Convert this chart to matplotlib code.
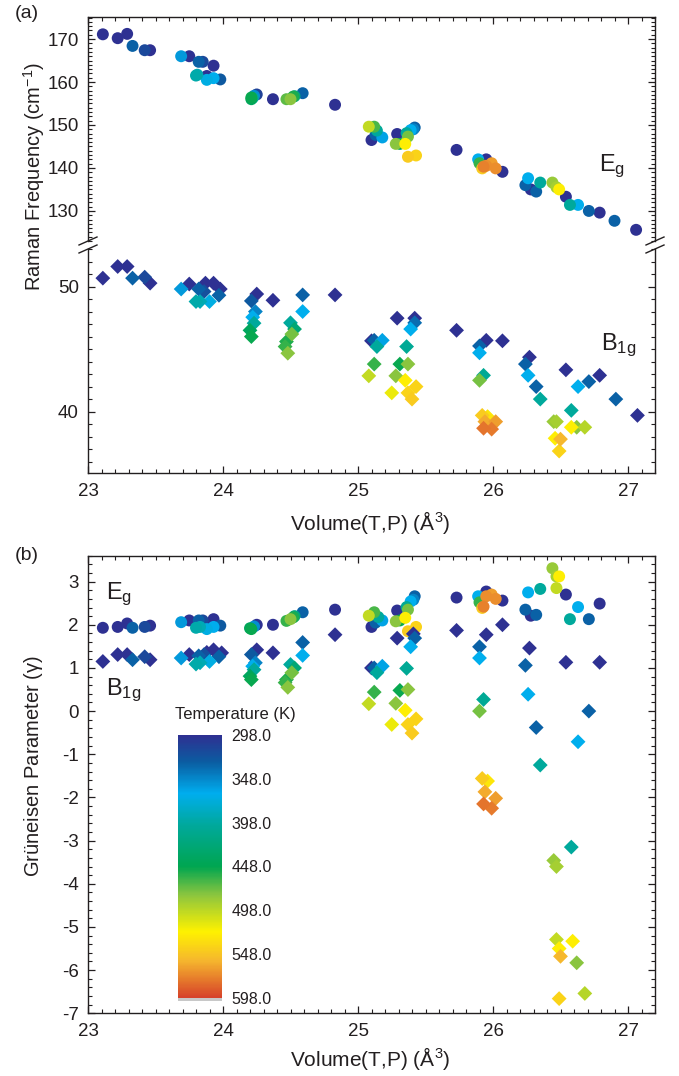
import numpy as np
import matplotlib
matplotlib.use('Agg')
import matplotlib.pyplot as plt
from matplotlib.colors import LinearSegmentedColormap, Normalize
from matplotlib.lines import Line2D
from matplotlib.patches import Rectangle
from matplotlib.ticker import MultipleLocator

plt.rcParams['font.family'] = ['Liberation Sans', 'DejaVu Sans']
plt.rcParams['axes.unicode_minus'] = False
plt.rcParams['mathtext.default'] = 'regular'

# ---- panel (a): Raman frequency, Eg mode (circles) ----
eg_a_vol = [23.11, 23.22, 23.29, 23.33, 23.42, 23.46, 23.69, 23.75, 23.82, 23.85, 23.93, 23.80, 23.81,
            23.88, 23.88, 23.93, 23.98, 24.21, 24.21, 24.23, 24.25, 24.22, 24.37, 24.47, 24.50, 24.52,
            24.53, 24.59, 24.83, 25.08, 25.12, 25.10, 25.13, 25.14, 25.18, 25.29, 25.28, 25.31, 25.35,
            25.36, 25.37, 25.39, 25.42, 25.41, 25.37, 25.43, 25.73, 25.89, 25.95, 25.90, 25.92, 25.93,
            25.95, 25.99, 26.02, 26.07, 26.26, 26.24, 26.28, 26.32, 26.35, 26.44, 26.47, 26.49, 26.54,
            26.57, 26.63, 26.71, 26.79, 26.90, 27.06]
eg_a_freq = [171.1, 170.2, 171.2, 168.4, 167.4, 167.4, 166.0, 166.0, 164.7, 164.7, 163.8, 161.5, 161.7,
             161.4, 160.5, 160.9, 160.6, 156.4, 156.0, 156.8, 157.1, 156.3, 156.0, 156.0, 156.0, 156.6,
             156.7, 157.4, 154.7, 149.6, 149.6, 146.5, 147.7, 148.7, 147.1, 147.9, 145.6, 145.6, 145.6,
             148.1, 147.3, 148.8, 149.4, 149.0, 142.6, 142.9, 144.2, 142.0, 142.0, 141.1, 139.9, 140.3,
             140.5, 141.1, 139.9, 139.1, 137.6, 136.0, 135.0, 134.5, 136.6, 136.6, 135.5, 135.0, 133.3,
             131.4, 131.4, 130.0, 129.6, 127.7, 125.6]
eg_a_temp = [298, 298, 298, 330, 315, 298, 355, 298, 330, 315, 298, 395, 390,
             298, 370, 365, 325, 450, 440, 350, 310, 400, 298, 470, 480, 455,
             420, 330, 298, 500, 465, 298, 330, 400, 360, 298, 480, 450, 525,
             400, 475, 365, 330, 345, 545, 540, 298, 365, 298, 460, 545, 575,
             570, 565, 570, 298, 365, 330, 298, 330, 400, 485, 490, 525, 298,
             400, 365, 330, 298, 330, 298]

# ---- panel (a): Raman frequency, B1g mode (diamonds) ----
b1g_a_vol = [23.11, 23.22, 23.29, 23.33, 23.42, 23.46, 23.69, 23.75, 23.82, 23.87, 23.86, 23.80, 23.83,
             23.90, 23.93, 23.98, 23.97, 24.21, 24.25, 24.24, 24.22, 24.23, 24.20, 24.21, 24.37, 24.50,
             24.53, 24.51, 24.47, 24.46, 24.48, 24.59, 24.59, 24.83, 25.08, 25.12, 25.10, 25.12, 25.14,
             25.18, 25.29, 25.42, 25.42, 25.39, 25.36, 25.31, 25.37, 25.28, 25.35, 25.25, 25.37, 25.43,
             25.40, 25.73, 25.90, 25.95, 25.90, 26.07, 25.93, 25.90, 25.92, 25.96, 25.94, 26.02, 25.93,
             25.99, 26.27, 26.24, 26.26, 26.32, 26.35, 26.54, 26.63, 26.71, 26.79, 26.91, 27.07, 26.58,
             26.45, 26.47, 26.58, 26.62, 26.68, 26.46, 26.50, 26.49]
b1g_a_freq = [50.67, 51.6, 51.6, 50.67, 50.75, 50.27, 49.8, 50.2, 49.8, 50.27, 49.6, 48.8, 48.8,
              48.8, 50.27, 49.8, 49.3, 48.85, 49.4, 48.0, 47.55, 47.07, 46.5, 46.0, 48.9, 47.1,
              46.6, 46.2, 45.6, 45.2, 44.67, 49.33, 48.0, 49.33, 42.86, 43.8, 45.66, 45.7, 45.2,
              45.7, 47.47, 47.47, 47.1, 46.6, 45.2, 43.8, 43.8, 42.86, 42.5, 41.5, 41.5, 42.0,
              41.0, 46.5, 45.25, 45.7, 44.7, 45.66, 42.9, 42.5, 39.7, 39.6, 39.2, 39.2, 38.67,
              38.6, 44.35, 43.8, 42.9, 42.0, 41.0, 43.34, 42.0, 42.4, 42.9, 41.0, 39.7, 40.1,
              39.2, 39.2, 38.75, 38.75, 38.75, 37.87, 37.8, 36.85]
b1g_a_temp = [298, 298, 298, 330, 315, 298, 355, 298, 330, 298, 320, 395, 390,
              370, 298, 298, 330, 325, 298, 345, 365, 400, 440, 450, 298, 400,
              425, 475, 455, 460, 480, 330, 365, 298, 500, 460, 298, 330, 400,
              360, 298, 298, 335, 365, 405, 450, 480, 480, 525, 515, 540, 540,
              545, 298, 330, 298, 365, 298, 405, 475, 545, 530, 560, 565, 580,
              578, 298, 330, 365, 330, 400, 298, 365, 330, 298, 330, 298, 400,
              485, 490, 525, 480, 495, 525, 555, 540]

# ---- panel (b): Grueneisen parameter, Eg mode ----
eg_b_vol = [23.11, 23.22, 23.29, 23.33, 23.42, 23.46, 23.69, 23.75, 23.82, 23.85, 23.93, 23.80, 23.83,
            23.88, 23.88, 23.93, 23.98, 24.21, 24.20, 24.23, 24.25, 24.37, 24.47, 24.50, 24.52, 24.53,
            24.59, 24.83, 25.08, 25.12, 25.10, 25.13, 25.15, 25.18, 25.29, 25.28, 25.31, 25.35, 25.36,
            25.37, 25.39, 25.42, 25.41, 25.37, 25.43, 25.73, 25.89, 25.95, 25.90, 25.93, 25.95, 25.99,
            26.02, 25.92, 26.07, 26.26, 26.24, 26.28, 26.32, 26.35, 26.44, 26.47, 26.49, 26.47, 26.54,
            26.57, 26.63, 26.71, 26.79]
eg_b_gamma = [1.93, 1.95, 2.03, 1.93, 1.95, 1.98, 2.06, 2.10, 2.10, 2.10, 2.13, 1.93, 1.95,
              1.95, 1.90, 1.95, 1.98, 1.90, 1.92, 1.96, 2.00, 2.00, 2.09, 2.13, 2.17, 2.20,
              2.29, 2.35, 2.21, 2.29, 1.95, 2.05, 2.18, 2.10, 2.33, 2.08, 2.10, 2.16, 2.41,
              2.35, 2.54, 2.66, 2.58, 1.85, 1.95, 2.63, 2.66, 2.77, 2.52, 2.42, 2.66, 2.70,
              2.60, 2.39, 2.56, 2.75, 2.35, 2.21, 2.23, 2.83, 3.31, 3.12, 3.12, 2.85, 2.70,
              2.13, 2.41, 2.13, 2.49]
eg_b_temp = [298, 298, 298, 330, 315, 298, 355, 298, 330, 315, 298, 395, 390,
             298, 370, 365, 325, 450, 440, 350, 298, 298, 460, 480, 455, 420,
             330, 298, 500, 465, 298, 330, 400, 360, 298, 480, 450, 525, 405,
             475, 365, 330, 345, 545, 540, 298, 365, 298, 460, 575, 570, 565,
             570, 545, 298, 365, 330, 298, 330, 400, 485, 490, 525, 500, 298,
             400, 365, 330, 298]

# ---- panel (b): Grueneisen parameter, B1g mode ----
b1g_b_vol = [23.11, 23.22, 23.29, 23.33, 23.42, 23.46, 23.69, 23.75, 23.82, 23.88, 23.86, 23.80, 23.83,
             23.90, 23.93, 23.99, 23.97, 24.21, 24.25, 24.24, 24.22, 24.23, 24.20, 24.21, 24.37, 24.50,
             24.53, 24.51, 24.47, 24.46, 24.48, 24.59, 24.59, 24.83, 25.08, 25.12, 25.10, 25.12, 25.18,
             25.14, 25.29, 25.42, 25.41, 25.39, 25.36, 25.31, 25.37, 25.28, 25.35, 25.25, 25.37, 25.43,
             25.40, 25.73, 25.90, 25.95, 25.90, 26.07, 25.93, 25.90, 25.92, 25.96, 25.94, 26.02, 25.93,
             25.99, 26.27, 26.24, 26.26, 26.32, 26.35, 26.54, 26.71, 26.79, 26.63, 26.58, 26.45, 26.47,
             26.47, 26.59, 26.49, 26.50, 26.62, 26.68, 26.49]
b1g_b_gamma = [1.15, 1.31, 1.31, 1.19, 1.26, 1.19, 1.23, 1.31, 1.28, 1.36, 1.31, 1.09, 1.12,
               1.15, 1.42, 1.35, 1.26, 1.31, 1.42, 1.12, 1.04, 0.96, 0.81, 0.73, 1.35, 1.08,
               1.00, 0.89, 0.73, 0.66, 0.55, 1.59, 1.29, 1.77, 0.17, 0.44, 1.00, 1.00, 1.04,
               0.89, 1.69, 1.69, 1.79, 1.49, 0.99, 0.48, 0.50, 0.18, 0.02, -0.31, -0.31, -0.18,
               -0.51, 1.87, 1.49, 1.77, 1.23, 2.00, 0.27, 0.00, -1.56, -1.62, -1.87, -2.02, -2.15,
               -2.25, 1.46, 1.06, 0.39, -0.38, -1.25, 1.13, 0.00, 1.13, -0.71, -3.15, -3.46, -3.60,
               -5.29, -5.33, -5.50, -5.68, -5.83, -6.54, -6.66]
b1g_b_temp = [298, 298, 298, 330, 315, 298, 355, 298, 330, 298, 320, 395, 390,
              370, 298, 298, 330, 325, 298, 345, 365, 400, 440, 450, 298, 400,
              425, 475, 455, 460, 480, 330, 365, 298, 500, 460, 298, 330, 360,
              400, 298, 330, 298, 365, 405, 450, 480, 480, 525, 515, 540, 540,
              545, 298, 330, 298, 365, 298, 405, 475, 545, 530, 560, 565, 580,
              578, 298, 330, 365, 330, 400, 298, 330, 298, 365, 400, 485, 490,
              500, 525, 525, 555, 480, 495, 540]

cbar_ticks = [298, 348, 398, 448, 498, 548, 598]

cmap = LinearSegmentedColormap.from_list('temp', [
    (0.0, '#2e3192'), (0.1, '#0b5da2'), (0.22, '#00aeef'), (0.34, '#00a99d'),
    (0.5, '#00a651'), (0.61, '#8dc63f'), (0.75, '#fff200'), (0.86, '#f6b72e'),
    (1.0, '#d7432a')])
norm = Normalize(298, 598)

W, H = 679, 1076
fig = plt.figure(figsize=(W / 100, H / 100), dpi=100)


def box(x0, y0, x1, y1):
    # pixel box (top-left origin) -> figure fraction rect
    return [x0 / W, 1 - y1 / H, (x1 - x0) / W, (y1 - y0) / H]


def fxy(px, py):
    return px / W, 1 - py / H


def dots(ax, x, y, t, marker, s):
    x = np.array(x); y = np.array(y); t = np.array(t)
    order = np.argsort(t, kind='stable')
    ax.scatter(x[order], y[order], c=t[order], cmap=cmap, norm=norm,
               marker=marker, s=s, linewidths=0, zorder=3)


def style(ax):
    ax.tick_params(which='both', direction='in', top=True, right=True,
                   labelsize=13.5, colors='#231f20')
    ax.tick_params(axis='x', pad=7)
    ax.tick_params(axis='y', pad=6.5)
    ax.tick_params(which='major', length=5, width=0.9)
    ax.tick_params(which='minor', length=3, width=0.8)
    for sp in ax.spines.values():
        sp.set_linewidth(1.0)
        sp.set_color('#231f20')
    ax.set_xlim(23, 27.2)
    ax.xaxis.set_major_locator(MultipleLocator(1))
    ax.xaxis.set_minor_locator(MultipleLocator(0.1))


ax_top = fig.add_axes(box(88, 16.7, 655, 241))
ax_bot = fig.add_axes(box(88, 249, 655, 473.3))
ax_b = fig.add_axes(box(88, 555.7, 655, 1013.3))

dots(ax_top, eg_a_vol, eg_a_freq, eg_a_temp, 'o', 74)
dots(ax_bot, b1g_a_vol, b1g_a_freq, b1g_a_temp, 'D', 57)
dots(ax_b, eg_b_vol, eg_b_gamma, eg_b_temp, 'o', 74)
dots(ax_b, b1g_b_vol, b1g_b_gamma, b1g_b_temp, 'D', 57)

for ax in (ax_top, ax_bot, ax_b):
    style(ax)

ax_top.set_ylim(123.0, 175.2)
ax_top.yaxis.set_major_locator(MultipleLocator(10))
ax_top.yaxis.set_minor_locator(MultipleLocator(1))
ax_top.spines['bottom'].set_visible(False)
ax_top.tick_params(which='both', bottom=False, labelbottom=False)

ax_bot.set_ylim(35.07, 53.0)
ax_bot.yaxis.set_major_locator(MultipleLocator(10))
ax_bot.yaxis.set_minor_locator(MultipleLocator(1))
ax_bot.spines['top'].set_visible(False)
ax_bot.tick_params(which='both', top=False)

ax_b.set_ylim(-7, 3.6)
ax_b.yaxis.set_major_locator(MultipleLocator(1))
ax_b.yaxis.set_minor_locator(MultipleLocator(0.2))

# axis break marks
for px in (88, 655):
    for dy in (-4, 4):
        x0, y0 = fxy(px - 9, 245 + dy + 4)
        x1, y1 = fxy(px + 9, 245 + dy - 4)
        fig.add_artist(Line2D([x0, x1], [y0, y1], color='#231f20', lw=1.0))

# colorbar inset
cax = fig.add_axes(box(178.3, 735, 221.7, 997.7))
grad = np.linspace(298, 598, 300).reshape(-1, 1)
cax.imshow(grad, aspect='auto', cmap=cmap, norm=norm, extent=[0, 1, 598, 298])
cax.set_xticks([])
cax.set_yticks(cbar_ticks)
cax.set_yticklabels(['%.1f' % v for v in cbar_ticks])
cax.yaxis.tick_right()
cax.tick_params(axis='y', length=0, pad=7, labelsize=11.5, colors='#231f20')
for sp in cax.spines.values():
    sp.set_visible(False)
fig.add_artist(Rectangle(fxy(178.3, 1000.5), 43.4 / W, 2.8 / H,
                         transform=fig.transFigure, color='#c8c8c8', lw=0))
fig.text(*fxy(235, 714), 'Temperature (K)', fontsize=12, ha='center', va='center', color='#231f20')

# labels
txt = dict(color='#231f20', ha='center', va='center')
fig.text(*fxy(27, 14), '(a)', fontsize=14, **txt)
fig.text(*fxy(27, 555), '(b)', fontsize=14, **txt)
fig.text(*fxy(34, 177), 'Raman Frequency (cm$^{-1}$)', fontsize=14.5, rotation=90, **txt)
fig.text(*fxy(34, 766), r'Grüneisen Parameter ($\gamma$)', fontsize=14.5, rotation=90, **txt)
fig.text(*fxy(370, 522), 'Volume(T,P) (Å$^{3}$)', fontsize=15, **txt)
fig.text(*fxy(370, 1059), 'Volume(T,P) (Å$^{3}$)', fontsize=15, **txt)

mode = dict(fontsize=17, color='#231f20', ha='left', va='center')
fig.text(*fxy(599, 166), 'E$_{g}$', **mode)
fig.text(*fxy(601, 345), 'B$_{1g}$', **mode)
fig.text(*fxy(106, 594), 'E$_{g}$', **mode)
fig.text(*fxy(106, 690), 'B$_{1g}$', **mode)

fig.savefig('out.png', dpi=100)
